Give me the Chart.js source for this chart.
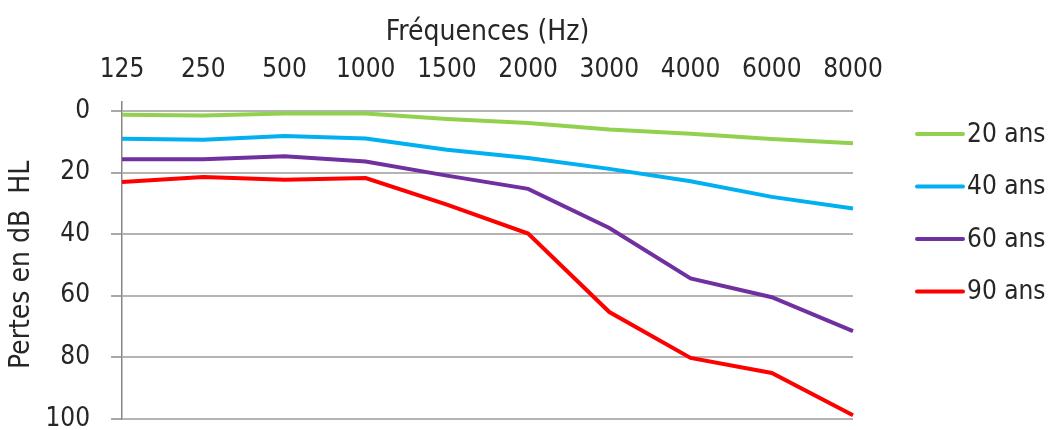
<!DOCTYPE html>
<html>
<head>
<meta charset="utf-8">
<script src="https://cdn.jsdelivr.net/npm/chart.js@4.4.1/dist/chart.umd.min.js"></script>
<style>
  html, body { margin: 0; padding: 0; background: #fff; overflow: hidden; }
  /* a bit taller than the window so the bottom label padding falls outside */
  #wrap { width: 1050px; height: 440px; }
</style>
</head>
<body>
<div id="wrap"><canvas id="chart"></canvas></div>
<script>
// frequencies (Hz) shown along the top axis
const frequencies = ["125", "250", "500", "1000", "1500", "2000", "3000", "4000", "6000", "8000"];
// hearing loss in dB HL per age group
const ans20 = [1.2, 1.5, 0.8, 0.8, 2.6, 3.9, 6.0, 7.4, 9.1, 10.5];
const ans40 = [9.0, 9.3, 8.1, 8.9, 12.6, 15.3, 18.8, 22.8, 27.9, 31.7];
const ans60 = [15.7, 15.7, 14.7, 16.4, 21.0, 25.3, 38.0, 54.4, 60.5, 71.5];
const ans90 = [23.1, 21.4, 22.3, 21.8, 30.4, 39.8, 65.3, 80.2, 85.1, 98.8];
const seriesNames = ["20 ans", "40 ans", "60 ans", "90 ans"];
const yTicks = [0, 20, 40, 60, 80, 100];

const FONT = "'Liberation Sans Narrow', 'DejaVu Sans Condensed', 'Liberation Sans', sans-serif";
const TEXT = "#262626";

// legend drawn at the right, line sample + label
const sideLegend = {
  id: "sideLegend",
  afterDraw(chart) {
    const ctx = chart.ctx;
    const area = chart.chartArea;
    ctx.save();
    chart.data.datasets.forEach((ds, i) => {
      const y = area.top + 23 + i * 52.5;
      const x0 = area.right + 64;
      ctx.strokeStyle = ds.borderColor;
      ctx.lineWidth = 4;
      ctx.lineCap = "round";
      ctx.beginPath();
      ctx.moveTo(x0, y);
      ctx.lineTo(x0 + 46, y);
      ctx.stroke();
      ctx.fillStyle = TEXT;
      ctx.font = "26px " + FONT;
      ctx.textBaseline = "middle";
      ctx.textAlign = "left";
      ctx.fillText(ds.label, x0 + 50, y + 1);
    });
    ctx.restore();
  }
};

const mkLine = (label, data, color) => ({
  label: label,
  data: data,
  borderColor: color,
  backgroundColor: color,
  borderWidth: 4,
  pointRadius: 0,
  tension: 0,
  fill: false,
});

new Chart(document.getElementById("chart"), {
  type: "line",
  data: {
    labels: frequencies,
    datasets: [
      mkLine(seriesNames[0], ans20, "#92D050"),
      mkLine(seriesNames[1], ans40, "#00B0F0"),
      mkLine(seriesNames[2], ans60, "#7030A0"),
      mkLine(seriesNames[3], ans90, "#FF0000"),
    ],
  },
  options: {
    responsive: true,
    maintainAspectRatio: false,
    animation: false,
    layout: { padding: { left: 8, right: 197, top: 16, bottom: 0 } },
    plugins: {
      legend: { display: false },
      tooltip: { enabled: false },
    },
    scales: {
      x: {
        type: "category",
        position: "top",
        offset: false,
        grid: {
          display: true,
          drawOnChartArea: false,
          drawTicks: true,
          tickLength: 10,
          lineWidth: 1.5,
          color: (c) => (c.index === 0 ? "#868686" : "rgba(0,0,0,0)"),
        },
        border: { display: false },
        ticks: {
          color: TEXT,
          font: { family: FONT, size: 26, lineHeight: 1 },
          padding: 18,
          maxRotation: 0,
          autoSkip: false,
        },
        title: {
          display: true,
          text: "Fréquences (Hz)",
          color: TEXT,
          font: { family: FONT, size: 28, lineHeight: 1 },
          padding: { top: 3, bottom: -8 },
        },
      },
      y: {
        reverse: true,
        min: 0,
        max: 100,
        afterBuildTicks(scale) {
          scale.ticks = yTicks.map((v) => ({ value: v }));
        },
        grid: {
          color: "#b4b4b4",
          lineWidth: 2,
          tickLength: 11,
          tickColor: "#a8a8a8",
        },
        border: { color: "#868686", width: 1.5 },
        ticks: {
          color: TEXT,
          font: { family: FONT, size: 26, lineHeight: 0.01 },
          padding: 21,
        },
        title: {
          display: true,
          text: "Pertes en dB  HL",
          color: TEXT,
          font: { family: FONT, size: 28, lineHeight: 1 },
          padding: { top: 0, bottom: -11.6 },
        },
      },
    },
  },
  plugins: [sideLegend],
});
</script>
</body>
</html>
